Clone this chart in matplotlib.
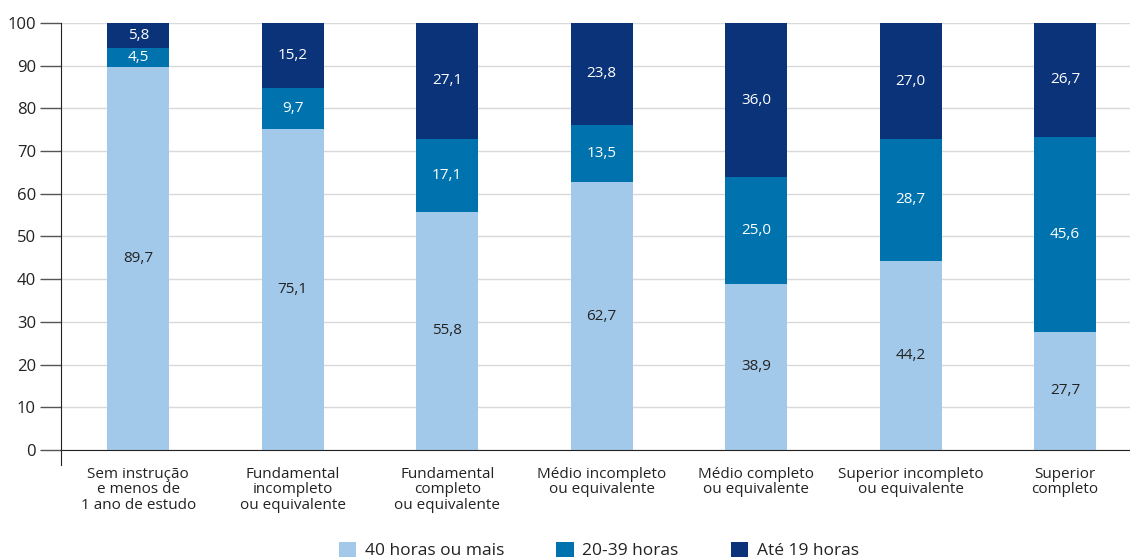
import numpy as np
import matplotlib.pyplot as plt
from matplotlib.lines import Line2D

plt.rcParams['font.family'] = ['Open Sans', 'DejaVu Sans']

# categorias (nível de instrução)
categorias = [
    "Sem instrução\ne menos de\n1 ano de estudo",
    "Fundamental\nincompleto\nou equivalente",
    "Fundamental\ncompleto\nou equivalente",
    "Médio incompleto\nou equivalente",
    "Médio completo\nou equivalente",
    "Superior incompleto\nou equivalente",
    "Superior\ncompleto",
]

# percentuais por faixa de horas
h40_mais = [89.7, 75.1, 55.8, 62.7, 38.9, 44.2, 27.7]
h20_39 = [4.5, 9.7, 17.1, 13.5, 25.0, 28.7, 45.6]
ate_19 = [5.8, 15.2, 27.1, 23.8, 36.0, 27.0, 26.7]

series_nomes = ["40 horas ou mais", "20-39 horas", "Até 19 horas"]
cores = ["#a3c9ea", "#0072ae", "#0b337a"]
cores_texto = ["#222222", "white", "white"]

fig = plt.figure(figsize=(11.3, 5.6), dpi=100)
ax = fig.add_axes([0.054, 0.1964, 0.946, 0.7626])

x = np.arange(len(categorias))
base = np.zeros(len(categorias))
for vals, cor, ct, nome in zip([h40_mais, h20_39, ate_19], cores, cores_texto, series_nomes):
    vals = np.array(vals)
    ax.bar(x, vals, width=0.4, bottom=base, color=cor, label=nome, zorder=3)
    for xi, b, v in zip(x, base, vals):
        ax.text(xi, b + v / 2, f"{v:.1f}".replace(".", ","), ha="center", va="center",
                color=ct, fontsize=11, zorder=4)
    base += vals

ax.set_ylim(0, 100)
ax.set_xlim(-0.5, 6.42)
ax.set_yticks(range(0, 101, 10))
ax.tick_params(axis="y", labelsize=12, length=15, width=1, color="#555555", labelcolor="#222222", pad=3)
ax.set_xticks(x)
ax.set_xticklabels(categorias, fontsize=11, color="#222222", linespacing=1.05)
ax.tick_params(axis="x", length=0, pad=12)
ax.yaxis.grid(True, color="#d9d9d9", linewidth=1, zorder=0)

for s in ["top", "right"]:
    ax.spines[s].set_visible(False)
ax.spines["left"].set_color("#222222")
ax.spines["bottom"].set_color("#222222")
ax.spines["bottom"].set_zorder(5)
ax.add_line(Line2D([0, 0], [0, -0.035], transform=ax.transAxes, color="#222222",
                   linewidth=0.8, clip_on=False))

fig.legend(loc="lower center", bbox_to_anchor=(0.53, -0.027), ncol=3, frameon=False,
           fontsize=12.5, handlelength=1.0, handleheight=1.0, handletextpad=0.5,
           columnspacing=3.0, labelcolor="#222222")

fig.savefig("out.png", dpi=100)
